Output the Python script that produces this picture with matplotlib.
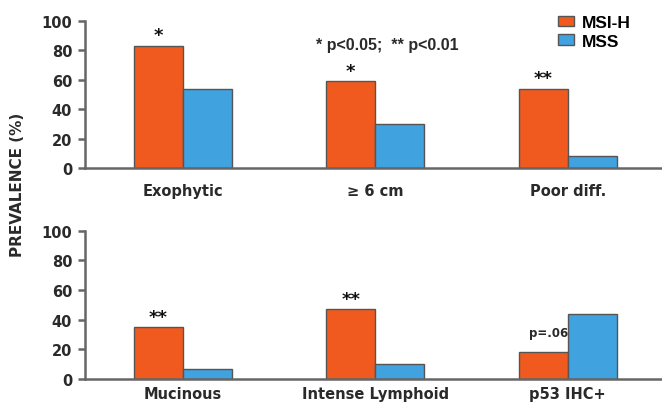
import matplotlib
matplotlib.use("Agg")
import matplotlib.pyplot as plt
import numpy as np
from matplotlib.patches import Patch

plt.rcParams["font.family"] = ["DejaVu Sans"]
plt.rcParams["font.weight"] = "bold"

MSI_COLOR = "#f05a1e"
MSS_COLOR = "#40a2de"
EDGE = "#555555"
AXIS = "#666666"
TEXT = "#2a2a2a"
NARROW = ["Liberation Sans", "DejaVu Sans"]

top_labels = ["Exophytic", "\u2265 6 cm", "Poor diff."]
top_msi = [83, 59, 54]
top_mss = [54, 30, 8]
top_marks = ["*", "*", "**"]

bottom_labels = ["Mucinous", "Intense Lymphoid", "p53 IHC+"]
bottom_msi = [35, 47, 18]
bottom_mss = [7, 10, 44]
bottom_marks = ["**", "**", "p=.06"]

W = 0.255


def draw_panel(ax, labels, msi, mss, marks, label_pad):
    x = np.arange(len(labels))
    ax.bar(x - W / 2, msi, W, color=MSI_COLOR, edgecolor=EDGE, linewidth=1)
    ax.bar(x + W / 2, mss, W, color=MSS_COLOR, edgecolor=EDGE, linewidth=1)
    for xi, v, m in zip(x, msi, marks):
        if m.startswith("p"):
            ax.text(xi - W / 2 + 0.03, v + 9, m, ha="center", va="bottom",
                    fontsize=8.5, color=TEXT, fontweight="bold")
        else:
            ax.text(xi - W / 2, v + 1.0, m, ha="center", va="bottom",
                    fontsize=13, color="#111111", fontweight="bold")
    ax.set_xlim(-0.51, 2.49)
    ax.set_ylim(0, 100)
    ax.set_yticks(range(0, 101, 20))
    ax.set_xticks(x, labels)
    ax.tick_params(axis="y", length=5, width=1.8, color=AXIS, labelsize=10.5,
                   labelcolor=TEXT, pad=4)
    ax.tick_params(axis="x", length=0, labelsize=10.5, labelcolor=TEXT, pad=label_pad)
    for lab in ax.get_xticklabels() + ax.get_yticklabels():
        lab.set_fontweight("bold")
    ax.spines[["top", "right"]].set_visible(False)
    for side in ("left", "bottom"):
        ax.spines[side].set_color(AXIS)
        ax.spines[side].set_linewidth(1.8)
    ax.spines["left"].set_bounds(0, 100)


fig = plt.figure(figsize=(6.62, 4.06), dpi=100)
ax1 = fig.add_axes([0.128, 0.584, 0.872, 0.362])
ax2 = fig.add_axes([0.128, 0.064, 0.872, 0.365])

draw_panel(ax1, top_labels, top_msi, top_mss, top_marks, 11)
draw_panel(ax2, bottom_labels, bottom_msi, bottom_mss, bottom_marks, 5)

fig.text(0.585, 0.887, "* p<0.05;  ** p<0.01", ha="center", va="center",
         fontsize=11.5, color=TEXT, fontweight="bold", family=NARROW)
fig.text(0.027, 0.544, "PREVALENCE (%)", rotation=90, ha="center", va="center",
         fontsize=11, color=TEXT, fontweight="bold")

handles = [Patch(facecolor=MSI_COLOR, edgecolor=EDGE), Patch(facecolor=MSS_COLOR, edgecolor=EDGE)]
fig.legend(handles, ["MSI-H", "MSS"], loc="upper left", bbox_to_anchor=(0.825, 0.99),
           frameon=False, handlelength=0.9, handleheight=0.55,
           handletextpad=0.45, labelspacing=0.2, borderpad=0.2,
           prop={"weight": "bold", "size": 12.5, "family": NARROW})

fig.savefig("out.png", dpi=100)
